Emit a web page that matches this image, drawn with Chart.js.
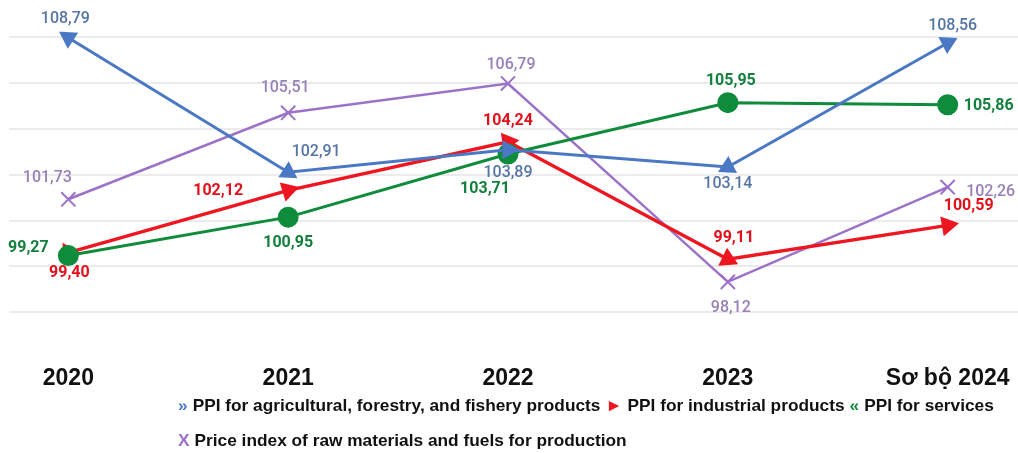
<!DOCTYPE html>
<html>
<head>
<meta charset="utf-8">
<script src="https://cdn.jsdelivr.net/npm/chart.js@4.4.0/dist/chart.umd.min.js"></script>
<style>
    html, body { margin: 0; padding: 0; background: #fff; }
    #wrap { position: relative; width: 1018px; height: 453px; overflow: hidden; }
    #myChart { position: absolute; left: 0; top: 0; }
    #legend {
        position: absolute; left: 178px; top: 392px; width: 835px;
        display: flex; flex-wrap: wrap; row-gap: 9px;
        font: bold 17.3px 'Liberation Sans', Arial, sans-serif; color: #111; line-height: 26px;
    }
    #legend .item { margin-right: 5px; white-space: nowrap; }
    #legend .glyph { margin-right: 5px; }
</style>
</head>
<body>
<div id="wrap">
    <canvas id="myChart" width="1018" height="396"></canvas>
    <div id="legend"></div>
</div>
<script>
    // values
    const years = ['2020', '2021', '2022', '2023', 'Sơ bộ 2024'];
    const agriPPI = [108.79, 102.91, 103.89, 103.14, 108.56];
    const industrialPPI = [99.40, 102.12, 104.24, 99.11, 100.59];
    const servicesPPI = [99.27, 100.95, 103.71, 105.95, 105.86];
    const rawMaterialIndex = [101.73, 105.51, 106.79, 98.12, 102.26];
    const seriesNames = [
        'PPI for agricultural, forestry, and fishery products',
        'PPI for industrial products',
        'PPI for services',
        'Price index of raw materials and fuels for production'
    ];
    const gridValues = [96.8, 98.8, 100.8, 102.8, 104.8, 106.8, 108.8];

    // look of each series (colours, marker turn, where the value label sits)
    const blue = '#4a78c4', red = '#ee1620', green = '#0f8b3c', purple = '#9b72c8';
    const agriRotation = [-57, 123, 90, 243, 63];
    const industrialRotation = [90, 73, 82, 116, 80];
    const agriOffsets = [[-3, -19], [28, -20], [0, 23], [0, 17], [5, -17]];
    const industrialOffsets = [[1, 20], [-70, 1], [0, -21], [6, -21], [21, -19]];
    const servicesOffsets = [[-40, -8], [0, 26], [-23, 35], [3, -22], [41, 1]];
    const rawOffsets = [[-21, -21], [-3, -25], [3, -18], [3, 26], [43, 5]];

    function toPoints(arr) {
        return arr.map((v, i) => ({ x: i, y: v }));
    }

    // draws the value next to every point
    const valueLabels = {
        id: 'valueLabels',
        afterDatasetsDraw(chart) {
            const c = chart.ctx;
            chart.data.datasets.forEach((ds, i) => {
                const meta = chart.getDatasetMeta(i);
                c.save();
                c.fillStyle = ds.labelColor;
                c.font = ds.labelFont;
                c.textAlign = 'center';
                c.textBaseline = 'middle';
                meta.data.forEach((pt, j) => {
                    const off = ds.labelOffsets[j];
                    const txt = ds.data[j].y.toFixed(2).replace('.', ',');
                    c.fillText(txt, pt.x + off[0], pt.y + off[1]);
                });
                c.restore();
            });
        }
    };

    var ctx = document.getElementById('myChart').getContext('2d');
    var myChart = new Chart(ctx, {
        type: 'line',
        data: {
            datasets: [{
                label: seriesNames[0],
                data: toPoints(agriPPI),
                borderColor: blue, backgroundColor: blue, borderWidth: 3,
                pointStyle: 'triangle', pointRadius: 8, pointRotation: agriRotation,
                legendGlyph: '»', labelColor: '#5474a6', labelFont: '500 16px Roboto',
                labelOffsets: agriOffsets, order: 0
            }, {
                label: seriesNames[1],
                data: toPoints(industrialPPI),
                borderColor: red, backgroundColor: red, borderWidth: 3.5,
                pointStyle: 'triangle', pointRadius: 8, pointRotation: industrialRotation,
                legendGlyph: '►', labelColor: '#e3101c', labelFont: 'bold 16px Roboto',
                labelOffsets: industrialOffsets, order: 2
            }, {
                label: seriesNames[2],
                data: toPoints(servicesPPI),
                borderColor: green, backgroundColor: green, borderWidth: 3,
                pointStyle: 'circle', pointRadius: 9,
                legendGlyph: '«', labelColor: '#13803e', labelFont: 'bold 16px Roboto',
                labelOffsets: servicesOffsets, order: 1
            }, {
                label: seriesNames[3],
                data: toPoints(rawMaterialIndex),
                borderColor: purple, backgroundColor: purple, borderWidth: 2.5,
                pointStyle: 'crossRot', pointRadius: 10, pointBorderWidth: 2,
                legendGlyph: 'X', labelColor: '#9880b8', labelFont: '500 16px Roboto',
                labelOffsets: rawOffsets, order: 3
            }]
        },
        options: {
            responsive: false,
            animation: false,
            devicePixelRatio: 1,
            layout: { autoPadding: false, padding: { left: 9, right: 0, top: 10, bottom: 0 } },
            scales: {
                x: {
                    type: 'linear',
                    min: -0.27,
                    max: 4.32,
                    grid: { display: false, drawTicks: false },
                    border: { display: false },
                    afterBuildTicks: (axis) => { axis.ticks = years.map((y, i) => ({ value: i })); },
                    // the end labels may stick out, the plot should still use the full width
                    afterFit: (axis) => { axis.paddingLeft = 0; axis.paddingRight = 0; },
                    ticks: {
                        padding: 4,
                        color: '#111',
                        font: { family: "'Liberation Sans', Arial", size: 23, weight: 'bold' },
                        maxRotation: 0,
                        callback: (v) => years[v]
                    }
                },
                y: {
                    min: 94.69,
                    max: 110,
                    afterBuildTicks: (axis) => { axis.ticks = gridValues.map(v => ({ value: v })); },
                    ticks: { display: false },
                    border: { display: false },
                    grid: { color: '#ebebeb', lineWidth: 2, drawTicks: false }
                }
            },
            plugins: {
                legend: { display: false },
                tooltip: { enabled: false }
            }
        },
        plugins: [valueLabels]
    });

    // html legend built from the datasets
    const legend = document.getElementById('legend');
    myChart.data.datasets.forEach(ds => {
        legend.insertAdjacentHTML('beforeend',
            `<span class="item"><span class="glyph" style="color:${ds.borderColor}">${ds.legendGlyph}</span>${ds.label}</span>`);
    });
</script>
</body>
</html>
